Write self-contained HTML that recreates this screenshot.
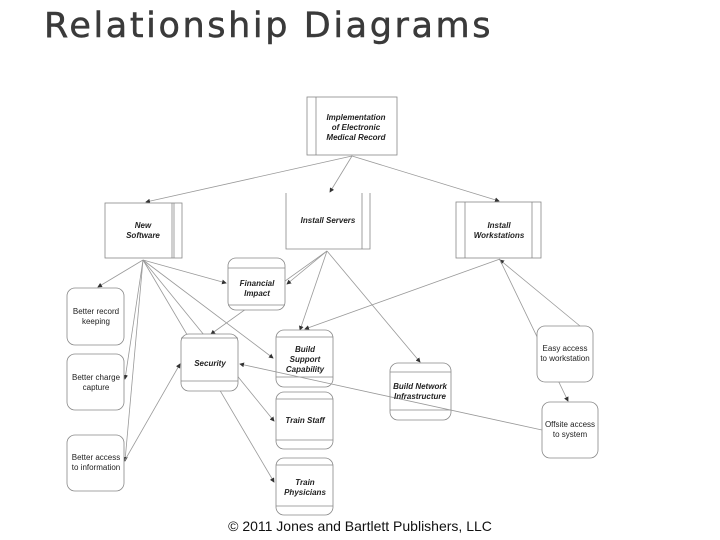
<!DOCTYPE html>
<html><head><meta charset="utf-8"><style>
html,body{margin:0;padding:0;background:#fff;}
body{width:720px;height:540px;position:relative;overflow:hidden;font-family:"Liberation Sans",sans-serif;}
.t{position:absolute;left:44px;top:6px;font-family:"DejaVu Sans",sans-serif;font-size:35px;color:#3a3a3a;letter-spacing:2.6px;-webkit-text-stroke:0.5px #3a3a3a;}
.f{position:absolute;left:0;width:720px;top:518px;text-align:center;font-size:14px;color:#111;}
svg text{font-family:"Liberation Sans",sans-serif;font-size:8px;fill:#222;text-anchor:middle;}
.b{font-style:italic;font-weight:bold;}
</style></head><body>
<div class="t">Relationship Diagrams</div>
<svg width="720" height="540" style="position:absolute;left:0;top:0">
<defs><marker id="a" markerWidth="6" markerHeight="6" refX="5" refY="3" orient="auto"><path d="M0,0L6,3L0,6z" fill="#333"/></marker></defs>
<g stroke="#999" stroke-width="0.8" fill="none" marker-end="url(#a)">
<line x1="352" y1="156" x2="146" y2="202"/>
<line x1="352" y1="156" x2="330" y2="192"/>
<line x1="352" y1="156" x2="499" y2="201"/>
<line x1="143" y1="260" x2="98" y2="287"/>
<line x1="143" y1="260" x2="125" y2="379"/>
<line x1="143" y1="260" x2="125" y2="461"/>
<line x1="143" y1="260" x2="226" y2="283"/>
<line x1="143" y1="260" x2="273" y2="358"/>
<line x1="143" y1="260" x2="274" y2="421"/>
<line x1="143" y1="260" x2="274" y2="482"/>
<line x1="125" y1="460" x2="180" y2="364"/>
<line x1="327" y1="251" x2="287" y2="284"/>
<line x1="327" y1="251" x2="211" y2="334"/>
<line x1="327" y1="251" x2="420" y2="362"/>
<line x1="327" y1="251" x2="300" y2="330"/>
<line x1="500" y1="259" x2="305" y2="329"/>
<line x1="580" y1="326" x2="500" y2="260"/>
<line x1="500" y1="260" x2="568" y2="401"/>
</g>
<g stroke="#888" stroke-width="0.8" fill="#fff">
<rect x="307" y="97" width="90" height="58"/><line x1="316" y1="97" x2="316" y2="155"/>
<rect x="105" y="203" width="77" height="55"/><line x1="172" y1="203" x2="172" y2="258"/><line x1="174" y1="203" x2="174" y2="258"/>
<path d="M286,193V249H370V193M362,193V249"/>
<rect x="456" y="202" width="85" height="56"/><line x1="465" y1="202" x2="465" y2="258"/><line x1="532" y1="202" x2="532" y2="258"/>
<rect x="228" y="258" width="57" height="52" rx="8"/><line x1="228" y1="268" x2="285" y2="268"/><line x1="228" y1="305" x2="285" y2="305"/>
<rect x="67" y="288" width="57" height="57" rx="8"/>
<rect x="67" y="354" width="57" height="56" rx="8"/>
<rect x="67" y="435" width="57" height="56" rx="8"/>
<rect x="181" y="334" width="57" height="57" rx="8"/><line x1="181" y1="338" x2="238" y2="338"/><line x1="181" y1="381" x2="238" y2="381"/>
<rect x="276" y="330" width="57" height="57" rx="8"/><line x1="276" y1="337" x2="333" y2="337"/><line x1="276" y1="377" x2="333" y2="377"/>
<rect x="276" y="392" width="57" height="57" rx="8"/><line x1="276" y1="399" x2="333" y2="399"/><line x1="276" y1="440" x2="333" y2="440"/>
<rect x="276" y="458" width="57" height="57" rx="8"/><line x1="276" y1="465" x2="333" y2="465"/><line x1="276" y1="506" x2="333" y2="506"/>
<rect x="390" y="363" width="61" height="57" rx="8"/><line x1="390" y1="372" x2="451" y2="372"/><line x1="390" y1="410" x2="451" y2="410"/>
<rect x="537" y="326" width="56" height="56" rx="8"/>
<rect x="542" y="402" width="56" height="56" rx="8"/>
</g>
<line x1="542" y1="430" x2="240" y2="364" stroke="#999" stroke-width="0.8" marker-end="url(#a)"/>
<g class="b">
<text x="356" y="120">Implementation</text><text x="356" y="130">of Electronic</text><text x="356" y="140">Medical Record</text>
<text x="143" y="228">New</text><text x="143" y="238">Software</text>
<text x="328" y="223">Install Servers</text>
<text x="499" y="228">Install</text><text x="499" y="238">Workstations</text>
<text x="257" y="286">Financial</text><text x="257" y="296">Impact</text>
<text x="210" y="366">Security</text>
<text x="305" y="352">Build</text><text x="305" y="362">Support</text><text x="305" y="372">Capability</text>
<text x="305" y="423">Train Staff</text>
<text x="305" y="485">Train</text><text x="305" y="495">Physicians</text>
<text x="420" y="389">Build Network</text><text x="420" y="399">Infrastructure</text>
</g>
<text x="96" y="314">Better record</text><text x="96" y="324">keeping</text>
<text x="96" y="380">Better charge</text><text x="96" y="390">capture</text>
<text x="96" y="460">Better access</text><text x="96" y="470">to information</text>
<text x="565" y="351">Easy access</text><text x="565" y="361">to workstation</text>
<text x="570" y="427">Offsite access</text><text x="570" y="437">to system</text>
</svg>
<div class="f">© 2011 Jones and Bartlett Publishers, LLC</div>
</body></html>
